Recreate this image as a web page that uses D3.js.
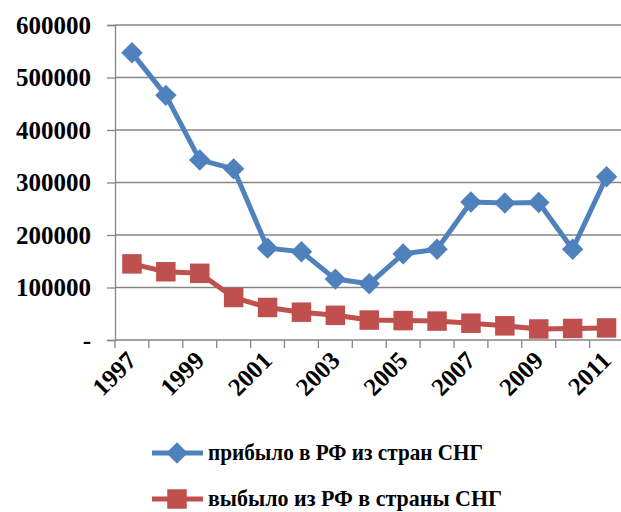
<!DOCTYPE html>
<html><head><meta charset="utf-8">
<script src="https://cdn.jsdelivr.net/npm/d3@7"></script>
<style>body{margin:0;background:#fff}svg{display:block}
svg text{font-family:"Liberation Serif","DejaVu Serif",serif;font-weight:bold}</style>
</head><body>
<svg id="c" width="621" height="512"></svg>
<script>
const years = [1997,1998,1999,2000,2001,2002,2003,2004,2005,2006,2007,2008,2009,2010,2011];
const arrivals = [547000,466000,343000,326000,175000,168000,116000,107000,164000,173000,263000,261000,262000,173000,311000];
const departures = [145000,130000,127000,81000,62000,53000,47000,38000,37000,36000,32000,27000,21000,22000,23000];
const yTicks = [0,100000,200000,300000,400000,500000,600000];
const seriesNames = ["прибыло в РФ из стран СНГ","выбыло из РФ в страны СНГ"];
const colors = ["#4F81BD","#C0504D"];

const svg = d3.select("#c");
const pLeft = 115, pRight = 623.5, pTop = 25, pBottom = 340;
const x = d3.scaleBand().domain(years).range([pLeft, pRight]);
const y = d3.scaleLinear().domain([0,600000]).range([pBottom, pTop]);
const grid = "#868686";

// gridlines
svg.append("g").selectAll("line").data(yTicks.filter(d=>d>0)).join("line")
  .attr("x1", pLeft).attr("x2", 621).attr("y1", d=>y(d)).attr("y2", d=>y(d))
  .attr("stroke", grid).attr("stroke-width", 1.3);

// y axis
const ya = svg.append("g").attr("transform",`translate(${pLeft},0)`)
  .call(d3.axisLeft(y).tickValues(yTicks).tickSize(8).tickPadding(16).tickFormat(d=> d===0 ? "-" : d));
ya.attr("font-family", null).attr("font-size", null);
ya.select(".domain").attr("stroke", grid).attr("stroke-width",1.3);
ya.selectAll(".tick line").attr("stroke", grid).attr("stroke-width",1.3);
ya.selectAll("text").style("font-size","25px").attr("fill","#000");

// x axis
const xa = svg.append("g").attr("transform",`translate(0,${pBottom})`)
  .call(d3.axisBottom(x).tickValues([]).tickSize(0));
xa.select(".domain").attr("stroke", grid).attr("stroke-width",1.3).attr("d",`M${pLeft},0H621`);
svg.append("g").selectAll("line").data(years).join("line")
  .attr("x1", d=>x(d)).attr("x2", d=>x(d)).attr("y1", pBottom).attr("y2", pBottom+8)
  .attr("stroke", grid).attr("stroke-width",1.3);
svg.append("g").selectAll("text").data(years.filter(d=>d%2===1)).join("text")
  .attr("transform", d=>`translate(${x(d)+x.bandwidth()/2+6},${pBottom+22}) rotate(-45)`)
  .attr("text-anchor","end").style("font-size","25px")
  .text(d=>d);

const line = d3.line().x((d,i)=>x(years[i])+x.bandwidth()/2).y(d=>y(d));
const data = [arrivals, departures];
data.forEach((vals,k)=>{
  svg.append("path").attr("d", line(vals)).attr("fill","none").attr("stroke",colors[k]).attr("stroke-width",5).attr("stroke-linejoin","round");
});
const diamond = d3.symbol().type(d3.symbolSquare).size(230);
const square = d3.symbol().type(d3.symbolSquare).size(380);
svg.append("g").selectAll("path").data(arrivals).join("path")
  .attr("d", diamond()).attr("fill", colors[0])
  .attr("transform",(d,i)=>`translate(${x(years[i])+x.bandwidth()/2},${y(d)}) rotate(45)`);
svg.append("g").selectAll("path").data(departures).join("path")
  .attr("d", square()).attr("fill", colors[1])
  .attr("transform",(d,i)=>`translate(${x(years[i])+x.bandwidth()/2},${y(d)})`);

// legend
const legY = [453, 499];
const legW = [275, 294];
seriesNames.forEach((name,k)=>{
  const g = svg.append("g");
  g.append("line").attr("x1",152).attr("x2",203).attr("y1",legY[k]).attr("y2",legY[k]).attr("stroke",colors[k]).attr("stroke-width",5);
  g.append("path").attr("d", k===0 ? diamond() : square()).attr("fill",colors[k])
    .attr("transform", `translate(177,${legY[k]})` + (k===0 ? " rotate(45)" : ""));
  g.append("text").attr("x",208).attr("y",legY[k]+7).style("font-size","23px")
    .attr("textLength",legW[k]).attr("lengthAdjust","spacingAndGlyphs").text(name);
});
</script>
</body></html>
